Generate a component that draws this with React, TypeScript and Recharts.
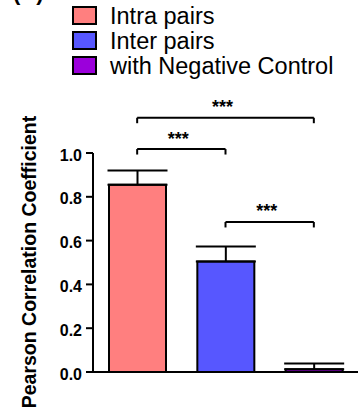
import React from 'react';
import { BarChart, Bar, XAxis, YAxis, ErrorBar, Cell, ReferenceLine, Legend } from 'recharts';

const categories = ['Intra pairs', 'Inter pairs', 'with Negative Control'];
const means = [0.855, 0.505, 0.012];
const sems = [0.065, 0.068, 0.027];
const colors = ['#FF7F7F', '#5757FF', '#9B00DB'];
const yTicks = [0, 0.2, 0.4, 0.6, 0.8, 1.0];
const yTitle = 'Pearson Correlation Coefficient';
const bracketFrom = [0, 0, 1];
const bracketTo = [2, 1, 2];
const bracketLevel = [1.161, 1.018, 0.685];
const bracketLabels = ['***', '***', '***'];
const bracketDrop = 0.025;
const panelLabel = '(C)';

const FONT = "Arial, 'Liberation Sans', sans-serif";

const data = categories.map((name, i) => ({ name, value: means[i], err: [0, sems[i]] }));

const renderLegend = () => (
  <div style={{ position: 'relative', width: 359, height: 80, fontFamily: FONT }}>
    {categories.map((c, i) => (
      <React.Fragment key={c}>
        <div
          style={{
            position: 'absolute',
            left: 72,
            top: 6 + 25 * i,
            width: 25,
            height: 19,
            boxSizing: 'border-box',
            border: '2px solid #000',
            background: colors[i],
          }}
        />
        <div
          style={{
            position: 'absolute',
            left: 110,
            top: 4.4 + 25 * i,
            fontSize: 23.5,
            lineHeight: '25px',
            whiteSpace: 'nowrap',
            color: '#000',
          }}
        >
          {c}
        </div>
      </React.Fragment>
    ))}
  </div>
);

const starLabel = (text: string) => (props: any) => {
  const vb = props.viewBox || {};
  return (
    <text
      x={(vb.x || 0) + (vb.width || 0) / 2 - 3}
      y={(vb.y || 0) - 4.5}
      textAnchor="middle"
      fontSize={18}
      fontWeight="bold"
      fontFamily={FONT}
      fill="#000"
    >
      {text}
    </text>
  );
};

export default function App() {
  return (
    <div style={{ position: 'absolute', left: 0, top: 0, width: 359, height: 412, background: '#fff' }}>
      <svg style={{ position: 'absolute', left: 0, top: 0 }} width={60} height={10}>
        <text x={13} y={0} fontSize={22} fontWeight="bold" fontFamily={FONT} fill="#000">
          {panelLabel}
        </text>
      </svg>
      <BarChart
        width={359}
        height={412}
        data={data}
        margin={{ top: 153, right: 1, bottom: 30, left: 0 }}
        barSize={57}
      >
        <Legend
          layout="vertical"
          align="center"
          verticalAlign="middle"
          wrapperStyle={{ left: 0, top: 0, width: 359, height: 80 }}
          content={renderLegend}
        />
        <XAxis
          dataKey="name"
          height={10}
          tick={false}
          tickSize={7}
          axisLine={{ stroke: '#000', strokeWidth: 2 }}
          tickLine={{ stroke: '#000', strokeWidth: 2 }}
        />
        <YAxis
          width={93}
          domain={[0, 1]}
          ticks={yTicks}
          interval={0}
          tickSize={7}
          tickMargin={4}
          tickFormatter={(v: number) => v.toFixed(1)}
          tick={{ fontSize: 16, fontWeight: 'bold', fill: '#000', fontFamily: FONT, dy: 2 }}
          axisLine={{ stroke: '#000', strokeWidth: 2 }}
          tickLine={{ stroke: '#000', strokeWidth: 2 }}
          label={{
            value: yTitle,
            content: () => (
              <text
                x={36}
                y={262}
                transform="rotate(-90 36 262)"
                textAnchor="middle"
                fontSize={19.5}
                fontWeight="bold"
                fontFamily={FONT}
                fill="#000"
              >
                {yTitle}
              </text>
            ),
          }}
        />
        <Bar dataKey="value" stroke="#000" strokeWidth={2} isAnimationActive={false}>
          {data.map((d, i) => (
            <Cell key={d.name} fill={colors[i]} />
          ))}
          <ErrorBar dataKey="err" width={30} stroke="#000" strokeWidth={2} direction="y" isAnimationActive={false} />
        </Bar>
        {bracketLevel.map((lvl, i) => (
          <ReferenceLine
            key={'h' + i}
            segment={[
              { x: categories[bracketFrom[i]], y: lvl },
              { x: categories[bracketTo[i]], y: lvl },
            ]}
            stroke="#000"
            strokeWidth={2}
            ifOverflow="visible"
            label={{ value: bracketLabels[i], content: starLabel(bracketLabels[i]) }}
          />
        ))}
        {bracketLevel.map((lvl, i) => (
          <ReferenceLine
            key={'l' + i}
            segment={[
              { x: categories[bracketFrom[i]], y: lvl },
              { x: categories[bracketFrom[i]], y: lvl - bracketDrop },
            ]}
            stroke="#000"
            strokeWidth={2}
            ifOverflow="visible"
          />
        ))}
        {bracketLevel.map((lvl, i) => (
          <ReferenceLine
            key={'r' + i}
            segment={[
              { x: categories[bracketTo[i]], y: lvl },
              { x: categories[bracketTo[i]], y: lvl - bracketDrop },
            ]}
            stroke="#000"
            strokeWidth={2}
            ifOverflow="visible"
          />
        ))}
      </BarChart>
    </div>
  );
}
